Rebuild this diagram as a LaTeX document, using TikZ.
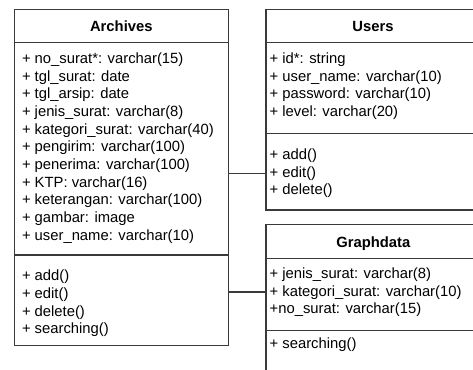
\documentclass[tikz,border=0pt]{standalone}
\usepackage{fontspec}
\setmainfont{Liberation Sans}
\begin{document}
\begin{tikzpicture}[x=1pt,y=-1pt,
  box/.style={draw=boxline,line width=1.2pt},
  rule/.style={draw=boxline,line width=1.2pt},
  link/.style={draw=boxline,line width=1.2pt},
  member/.style={anchor=base west,inner sep=0pt,text=black,font=\fontsize{14.8}{17.6}\selectfont},
  title/.style={anchor=base,inner sep=0pt,text=black,font=\fontsize{14.8}{17.6}\selectfont\bfseries}]
\definecolor{boxline}{HTML}{3A3A3A}
\useasboundingbox (0,0) rectangle (473,369);
\clip (0,0) rectangle (473,369);

% Archives class
\coordinate (arNW) at (14.3,9.7);
\coordinate (arSE) at (228.3,345.7);
\draw[box] (arNW) rectangle (arSE);
\draw[rule] (14.3,42.3) -- (228.3,42.3);
\draw[rule] (14.3,255) -- (228.3,255);
\node[title] (arT) at (121.3,31.8) {Archives};
\foreach \t [count=\i from 0] in {%
  + no\_surat*: varchar(15),
  + tgl\_surat: date,
  + tgl\_arsip: date,
  + jenis\_surat: varchar(8),
  + kategori\_surat: varchar(40),
  + pengirim: varchar(100),
  + penerima: varchar(100),
  + KTP: varchar(16),
  + keterangan: varchar(100),
  + gambar: image,
  + user\_name: varchar(10)}
  \node[member] (arA\i) at (21.8,63.5+17.67*\i) {\t};
\foreach \t [count=\i from 0] in {+ add(), + edit(), + delete(), + searching()}
  \node[member] (arM\i) at (21.8,280.5+17.8*\i) {\t};

% Users class
\draw[box] (266,9.5) rectangle (480,210);
\draw[rule] (266,42.3) -- (480,42.3);
\draw[rule] (266,133.3) -- (480,133.3);
\node[title] (usT) at (373,31.8) {Users};
\foreach \t [count=\i from 0] in {%
  + id*: string,
  + user\_name: varchar(10),
  + password: varchar(10),
  + level: varchar(20)}
  \node[member] (usA\i) at (269.5,63.5+17.67*\i) {\t};
\foreach \t [count=\i from 0] in {+ add(), + edit(), + delete()}
  \node[member] (usM\i) at (269.5,159.5+17.6*\i) {\t};

% Graphdata class
\draw[box] (266,224.3) rectangle (480,380);
\draw[rule] (266,258.3) -- (480,258.3);
\draw[rule] (266,330.7) -- (480,330.7);
\node[title] (gdT) at (373.3,247.2) {Graphdata};
\foreach \t [count=\i from 0] in {%
  + jenis\_surat: varchar(8),
  + kategori\_surat: varchar(10),
  +no\_surat: varchar(15)}
  \node[member] (gdA\i) at (269.5,278.8+17.4*\i) {\t};
\node[member] (gdM0) at (269.5,348.5) {+ searching()};

% associations
\coordinate (arR1) at (228.3,173.7);
\coordinate (usL1) at (266,173.7);
\coordinate (arR2) at (228.3,292);
\coordinate (gdL1) at (266,292);
\draw[link] (arR1) -- (usL1);
\draw[link] (arR2) -- (gdL1);
\end{tikzpicture}
\end{document}
